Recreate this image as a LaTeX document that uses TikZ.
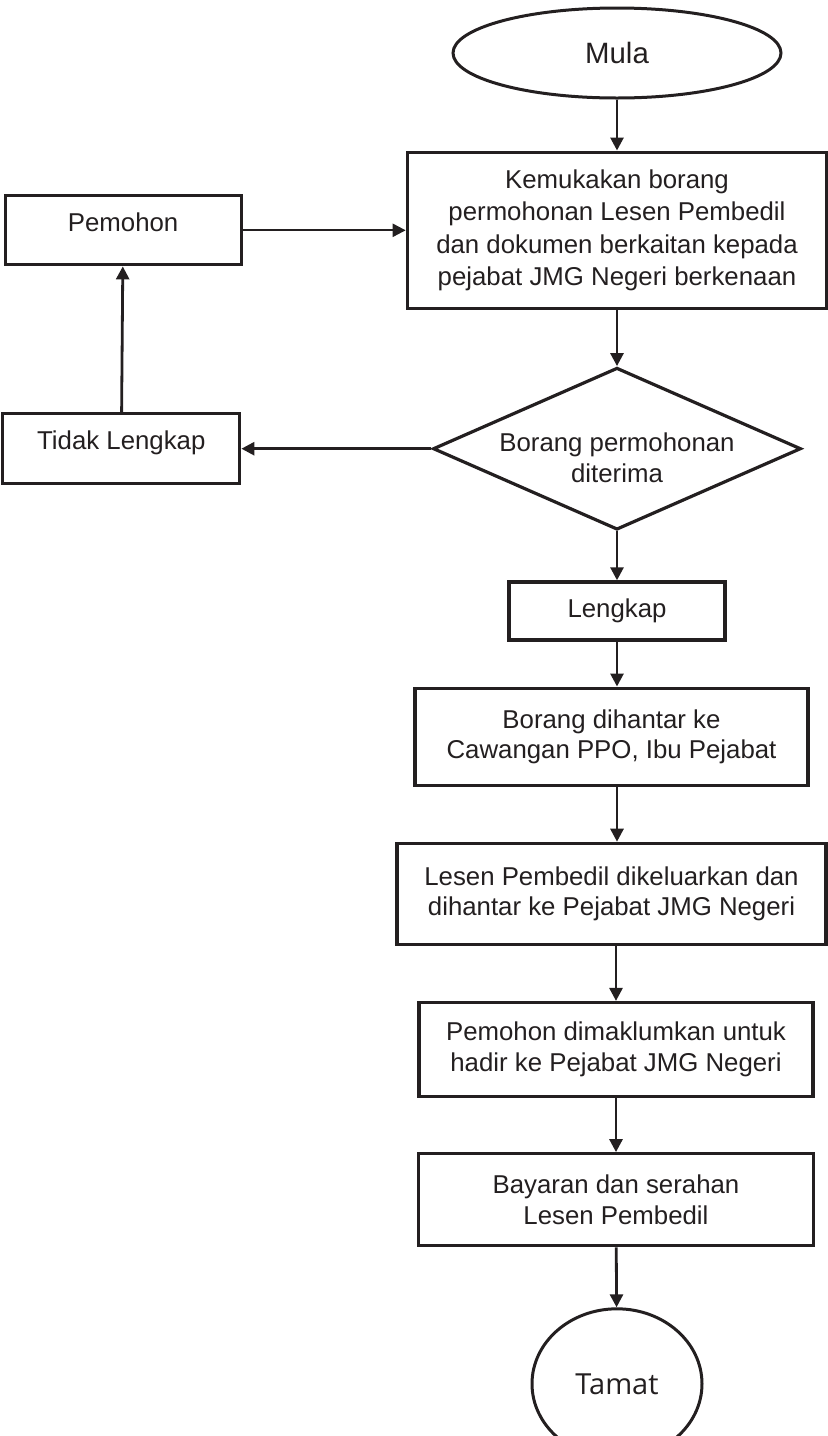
\documentclass[tikz,border=0pt]{standalone}
\usepackage{fontspec}
\setmainfont{Liberation Sans}
\newfontfamily\tamatfont{Open Sans}
\usetikzlibrary{positioning, arrows.meta, shapes.geometric}
\definecolor{ink}{HTML}{231F20}
\tikzset{
  procbox/.style={draw=ink, rectangle, line width=1.6pt, align=center, inner sep=3pt,
                  text=ink, font=\fontsize{12.9}{15.2}\selectfont},
  sidebox/.style={procbox, text height=9.4pt, text depth=8.6pt},
  decide/.style={draw=ink, diamond, aspect=2.27, line width=1.6pt, align=center,
                 inner sep=0pt, inner ysep=-4.5pt, text height=33.7pt, text depth=0pt,
                 minimum width=184pt, minimum height=81pt,
                 text=ink, font=\fontsize{12.9}{15.5}\selectfont},
  term/.style={draw=ink, ellipse, line width=1.5pt, inner sep=0pt, text=ink},
  arr/.style={-{Triangle[length=6.5pt, width=6.5pt]}, draw=ink, line width=1.4pt},
}
\begin{document}
\begin{tikzpicture}
  \useasboundingbox (0,0) rectangle (413.5pt,-718pt);
  \node[term, minimum width=164pt, minimum height=45pt,
        font=\fontsize{14.7}{17}\selectfont] (mula) at (308.5pt,-26.5pt) {Mula};
  \node[procbox, below=25.5pt of mula, minimum width=209.5pt, minimum height=78pt,
        line width=1.8pt, font=\fontsize{12.9}{16.3}\selectfont] (kemuka)
    {Kemukakan borang\\permohonan Lesen Pembedil\\dan dokumen berkaitan kepada\\pejabat JMG Negeri berkenaan};
  \node[sidebox, left=81.5pt of kemuka, minimum width=118pt, minimum height=34.5pt] (pemohon) {Pemohon};
  \node[decide, below=28pt of kemuka] (semak) {Borang permohonan\\diterima};
  \node[sidebox, left=95pt of semak, minimum width=118.5pt, minimum height=35pt] (tidak) {Tidak Lengkap};
  \node[procbox, below=24.5pt of semak, minimum width=108pt, minimum height=29pt] (lengkap) {Lengkap};
  \node[procbox, below=22.5pt of lengkap, xshift=-2.75pt, minimum width=196.5pt,
        minimum height=48.5pt] (hantar) {Borang dihantar ke\\Cawangan PPO, Ibu Pejabat};
  \node[procbox, below=27.5pt of hantar, minimum width=214.5pt, minimum height=50.5pt] (lesen)
    {Lesen Pembedil dikeluarkan dan\\dihantar ke Pejabat JMG Negeri};
  \node[procbox, below=27.5pt of lesen, xshift=2.25pt, minimum width=197pt,
        minimum height=47pt] (maklum) {Pemohon dimaklumkan untuk\\hadir ke Pejabat JMG Negeri};
  \node[procbox, below=27pt of maklum, minimum width=197.5pt, minimum height=46pt] (bayar)
    {Bayaran dan serahan\\Lesen Pembedil};
  \node[term, below=30pt of bayar, xshift=0.5pt, minimum width=85pt, minimum height=75pt,
        font=\tamatfont\fontsize{14.5}{17}\selectfont] (tamat) {Tamat};
  % connectors
  \draw[arr] (mula) -- (kemuka);
  \draw[arr, line width=1.1pt] (pemohon) -- (kemuka);
  \draw[arr] (kemuka) -- (semak);
  \draw[arr] (semak) -- (tidak);
  \draw[arr] (tidak) -- (pemohon);
  \draw[arr] (semak) -- (lengkap);
  \draw[arr] (lengkap.south) -- (lengkap.south |- hantar.north);
  \draw[arr] ([xshift=2.75pt]hantar.south) -- ([xshift=2.75pt]lesen.north);
  \draw[arr] (lesen.south -| maklum) -- (maklum);
  \draw[arr] (maklum) -- (bayar);
  \draw[arr] (bayar) -- (tamat);
\end{tikzpicture}
\end{document}
